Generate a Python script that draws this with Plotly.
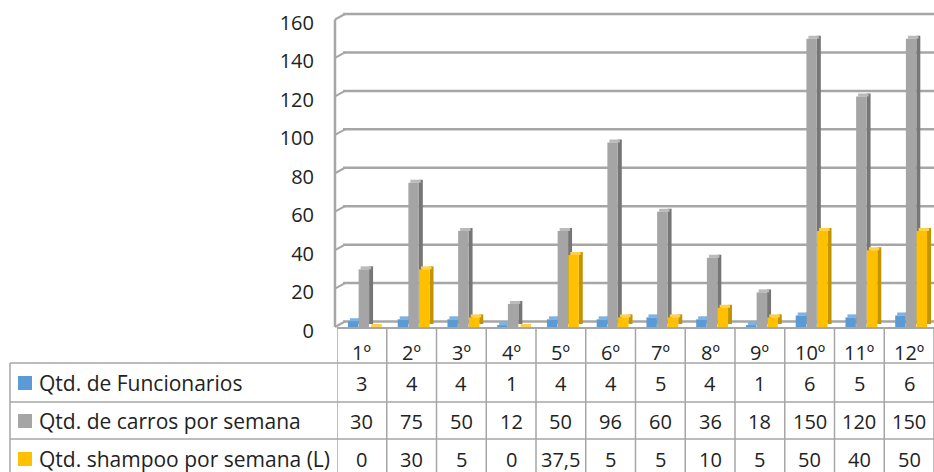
import plotly.graph_objects as go

# ---- data ----
categories = ["1º", "2º", "3º", "4º", "5º", "6º", "7º", "8º", "9º", "10º", "11º", "12º"]
funcionarios = [3, 4, 4, 1, 4, 4, 5, 4, 1, 6, 5, 6]
carros = [30, 75, 50, 12, 50, 96, 60, 36, 18, 150, 120, 150]
shampoo = [0, 30, 5, 0, 37.5, 5, 5, 10, 5, 50, 40, 50]
series_names = ["Qtd. de Funcionarios", "Qtd. de carros por semana", "Qtd. shampoo por semana (L)"]
y_ticks = [0, 20, 40, 60, 80, 100, 120, 140, 160]

# ---- styling ----
FONT = "Open Sans"
TEXT = "#222222"
GRID = "#a6a6a6"
TABLE_LINE = "#a6a6a6"
front_colors = ["#5b9bd5", "#a5a5a5", "#ffc000"]
side_colors = ["#3f76aa", "#767676", "#c39300"]
top_colors = ["#7fb2e2", "#bababa", "#ffd04a"]

W, H = 934, 472
Y_MAX = 160

# geometry (pixels)
FRONT_LEFT, FRONT_TOP, FRONT_BOTTOM = 337, 19.5, 327   # front plane of the 3D box
DEPTH_X, DEPTH_Y = 8, 5.5                               # offset of the back wall
LABEL_DROP = 3.5                                        # value labels sit a little low
ROW_LINES = [363, 402, 439]                             # table row borders
HEADER_Y = 352
ROW_CENTERS = [383, 421, 459]
TABLE_LEFT = 10


def px_x(p):
    return p / W


def px_y(p):
    return 1 - p / H


def fmt(v):
    return f"{v:g}".replace(".", ",")


px_per_unit = (FRONT_BOTTOM - FRONT_TOP) / Y_MAX
units_per_px = 1 / px_per_unit
rise = 3 * units_per_px          # height of the bar top faces

fig = go.Figure()

# placeholder trace for the value-label axis
fig.add_trace(go.Scatter(x=[None], y=[None], xaxis="x2", yaxis="y3",
                         showlegend=False, hoverinfo="skip"))

bar_w = 0.21
side_w = 0.08
offsets = [-0.28, -0.065, 0.15]
series = [funcionarios, carros, shampoo]

for vals, off, fc, sc, tc, name in zip(series, offsets, front_colors, side_colors, top_colors, series_names):
    # side face
    fig.add_trace(go.Bar(x=categories, y=vals, base=[rise] * len(vals),
                         offset=off + bar_w, width=side_w,
                         marker=dict(color=sc, line=dict(width=0)),
                         xaxis="x2", yaxis="y2", showlegend=False, hoverinfo="skip"))
    # top face
    fig.add_trace(go.Bar(x=categories, y=[rise] * len(vals), base=vals,
                         offset=off + side_w / 2, width=bar_w,
                         marker=dict(color=tc, line=dict(width=0)),
                         xaxis="x2", yaxis="y2", showlegend=False, hoverinfo="skip"))
    # front face
    fig.add_trace(go.Bar(x=categories, y=vals, name=name,
                         offset=off, width=bar_w,
                         marker=dict(color=fc, line=dict(width=0)),
                         xaxis="x2", yaxis="y2", showlegend=False))

shapes = []
annotations = []

# back wall gridlines and the diagonals joining them to the side wall
for t in y_ticks:
    y_front = FRONT_BOTTOM - t * px_per_unit
    y_back = y_front - DEPTH_Y
    shapes.append(dict(type="line", xref="paper", yref="paper", layer="below",
                       x0=px_x(FRONT_LEFT + DEPTH_X - 2), x1=1,
                       y0=px_y(y_back), y1=px_y(y_back),
                       line=dict(color=GRID, width=2.5)))
    shapes.append(dict(type="line", xref="paper", yref="paper", layer="below",
                       x0=px_x(FRONT_LEFT - 2), y0=px_y(y_front),
                       x1=px_x(FRONT_LEFT + DEPTH_X), y1=px_y(y_back),
                       line=dict(color=GRID, width=2)))

# data table: column borders
for i in range(len(categories) + 1):
    shapes.append(dict(type="line", xref="x2", yref="paper",
                       x0=i - 0.5, x1=i - 0.5, y0=px_y(FRONT_BOTTOM), y1=0,
                       line=dict(color=TABLE_LINE, width=1.5)))
# row borders
for r in ROW_LINES:
    shapes.append(dict(type="line", xref="paper", yref="paper",
                       x0=px_x(TABLE_LEFT), x1=1, y0=px_y(r), y1=px_y(r),
                       line=dict(color=TABLE_LINE, width=1.5)))
shapes.append(dict(type="line", xref="paper", yref="paper",
                   x0=px_x(TABLE_LEFT), x1=px_x(TABLE_LEFT), y0=px_y(ROW_LINES[0]), y1=0,
                   line=dict(color=TABLE_LINE, width=1.5)))

# header row
for i, c in enumerate(categories):
    annotations.append(dict(x=i, y=px_y(HEADER_Y), xref="x2", yref="paper",
                            text=c, showarrow=False, xanchor="center", yanchor="middle",
                            font=dict(family=FONT, size=20, color=TEXT)))

# series rows
for vals, name, fc, yc in zip(series, series_names, front_colors, ROW_CENTERS):
    shapes.append(dict(type="rect", xref="paper", yref="paper",
                       x0=px_x(18), x1=px_x(32), y0=px_y(yc + 7), y1=px_y(yc - 7),
                       fillcolor=fc, line=dict(width=0)))
    annotations.append(dict(x=px_x(37), y=px_y(yc), xref="paper", yref="paper",
                            text=name, showarrow=False, xanchor="left", yanchor="middle",
                            font=dict(family=FONT, size=21, color=TEXT)))
    for i, v in enumerate(vals):
        annotations.append(dict(x=i, y=px_y(yc), xref="x2", yref="paper",
                                text=fmt(v), showarrow=False, xanchor="center", yanchor="middle",
                                font=dict(family=FONT, size=20, color=TEXT)))

fig.update_layout(
    width=W, height=H,
    margin=dict(l=0, r=0, t=0, b=0, autoexpand=False),
    paper_bgcolor="white", plot_bgcolor="rgba(0,0,0,0)",
    barmode="overlay",
    font=dict(family=FONT, size=20, color=TEXT),
    # front plane: bars
    xaxis2=dict(domain=[px_x(FRONT_LEFT), 1], range=[-0.5, len(categories) - 0.5],
                type="category", showticklabels=False, ticks="", showgrid=False,
                showline=True, linecolor=TABLE_LINE, linewidth=1.5, anchor="y2"),
    yaxis2=dict(domain=[px_y(FRONT_BOTTOM), px_y(FRONT_TOP)], range=[0, Y_MAX],
                tickvals=y_ticks, showgrid=False, zeroline=False, showticklabels=False,
                showline=False, ticks="", anchor="x2"),
    # value labels
    yaxis3=dict(domain=[px_y(FRONT_BOTTOM + LABEL_DROP), px_y(FRONT_TOP + LABEL_DROP)],
                range=[0, Y_MAX], tickvals=y_ticks, showgrid=False, zeroline=False,
                showline=False, ticks="", ticklabelstandoff=22,
                tickfont=dict(family=FONT, size=20, color=TEXT), anchor="x2"),
    shapes=shapes + [
        # side wall edge
        dict(type="line", xref="paper", yref="paper", layer="below",
             x0=px_x(FRONT_LEFT - 2), x1=px_x(FRONT_LEFT - 2),
             y0=px_y(FRONT_BOTTOM), y1=px_y(FRONT_TOP),
             line=dict(color=GRID, width=2.5)),
    ],
    annotations=annotations,
)

fig.write_html("out.html")
